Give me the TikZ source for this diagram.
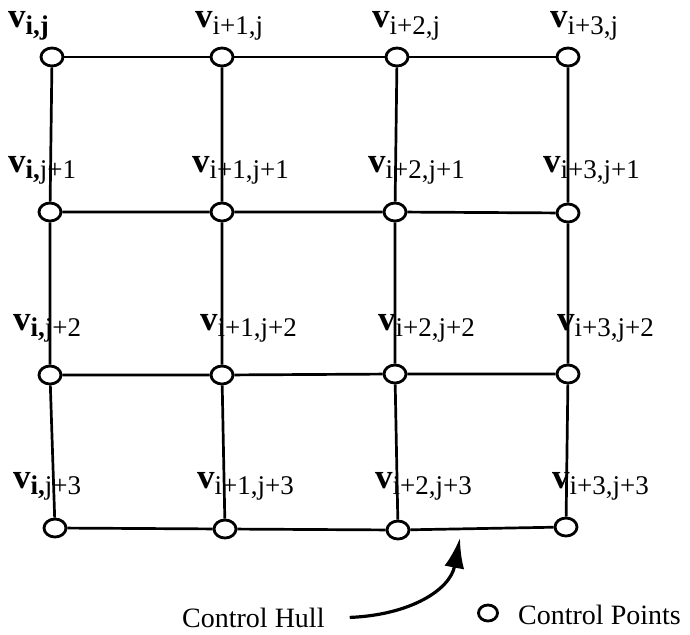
\documentclass[tikz,border=0pt]{standalone}
\usepackage{fontspec}
\setmainfont{Liberation Serif}
\usetikzlibrary{arrows.meta,positioning,shapes.geometric}
\tikzset{
  ctrl-pt/.style={draw,ellipse,fill=white,minimum width=22pt,minimum height=18pt,inner sep=0pt,line width=2.8pt},
  hull-ln/.style={line width=2.7pt},
  vlab/.style={anchor=base west,inner sep=0pt,font=\fontsize{35}{35}\selectfont},
  caption/.style={anchor=base west,inner sep=0pt,font=\fontsize{28}{28}\selectfont},
  pointer/.style={-{Latex[length=30pt,width=20pt]},line width=3.2pt},
}
\newcommand{\vsub}[1]{\textbf{v}\raisebox{-6pt}{\fontsize{27}{27}\selectfont #1}}

\begin{document}
\begin{tikzpicture}[x=1pt,y=-1pt]
  \useasboundingbox (0,0) rectangle (690,634);

  % control points
  \node[ctrl-pt] (p00) at (52, 57)   {};
  \node[ctrl-pt] (p01) at (222, 57)  {};
  \node[ctrl-pt] (p02) at (397, 57)  {};
  \node[ctrl-pt] (p03) at (568, 57)  {};
  \node[ctrl-pt] (p10) at (50, 212)  {};
  \node[ctrl-pt] (p11) at (222, 212) {};
  \node[ctrl-pt] (p12) at (395, 212) {};
  \node[ctrl-pt] (p13) at (568, 213) {};
  \node[ctrl-pt] (p20) at (50, 375)  {};
  \node[ctrl-pt] (p21) at (222, 375) {};
  \node[ctrl-pt] (p22) at (395, 374) {};
  \node[ctrl-pt] (p23) at (568, 374) {};
  \node[ctrl-pt] (p30) at (55, 528)  {};
  \node[ctrl-pt] (p31) at (225, 529) {};
  \node[ctrl-pt] (p32) at (398, 530) {};
  \node[ctrl-pt] (p33) at (566, 527) {};

  % labels
  \node[vlab] (l00) at (8, 28)    {\vsub{\textbf{i,j}}};
  \node[vlab] (l01) at (195, 28)  {\vsub{i+1,j}};
  \node[vlab] (l02) at (372, 28)  {\vsub{i+2,j}};
  \node[vlab] (l03) at (550, 28)  {\vsub{i+3,j}};
  \node[vlab] (l10) at (8, 172)   {\vsub{\textbf{i,}j+1}};
  \node[vlab] (l11) at (192, 172) {\vsub{i+1,j+1}};
  \node[vlab] (l12) at (368, 172) {\vsub{i+2,j+1}};
  \node[vlab] (l13) at (543, 172) {\vsub{i+3,j+1}};
  \node[vlab] (l20) at (13, 330)  {\vsub{\textbf{i,}j+2}};
  \node[vlab] (l21) at (200, 330) {\vsub{i+1,j+2}};
  \node[vlab] (l22) at (378, 330) {\vsub{i+2,j+2}};
  \node[vlab] (l23) at (557, 330) {\vsub{i+3,j+2}};
  \node[vlab] (l30) at (13, 488)  {\vsub{\textbf{i,}j+3}};
  \node[vlab] (l31) at (197, 488) {\vsub{i+1,j+3}};
  \node[vlab] (l32) at (375, 488) {\vsub{i+2,j+3}};
  \node[vlab] (l33) at (552, 488) {\vsub{i+3,j+3}};

  % hull
  \draw[hull-ln] (p00) -- (p01) -- (p02) -- (p03);
  \draw[hull-ln] (p10) -- (p11) -- (p12) -- (p13);
  \draw[hull-ln] (p20) -- (p21) -- (p22) -- (p23);
  \draw[hull-ln] (p30) -- (p31) -- (p32) -- (p33);
  \draw[hull-ln] (p00) -- (p10) -- (p20) -- (p30);
  \draw[hull-ln] (p01) -- (p11) -- (p21) -- (p31);
  \draw[hull-ln] (p02) -- (p12) -- (p22) -- (p32);
  \draw[hull-ln] (p03) -- (p13) -- (p23) -- (p33);

  % captions
  \node[caption] (hulltxt) at (182, 627) {Control Hull};
  \coordinate (tip) at (460, 538);
  \draw[pointer] ([xshift=25pt]hulltxt.east) .. controls (410, 615) and (450, 590) .. (tip);

  \node[ctrl-pt,minimum width=19pt,minimum height=16pt] (legpt) at (488, 613) {};
  \node[caption] (legtxt) at (518, 624) {Control Points};
\end{tikzpicture}
\end{document}
